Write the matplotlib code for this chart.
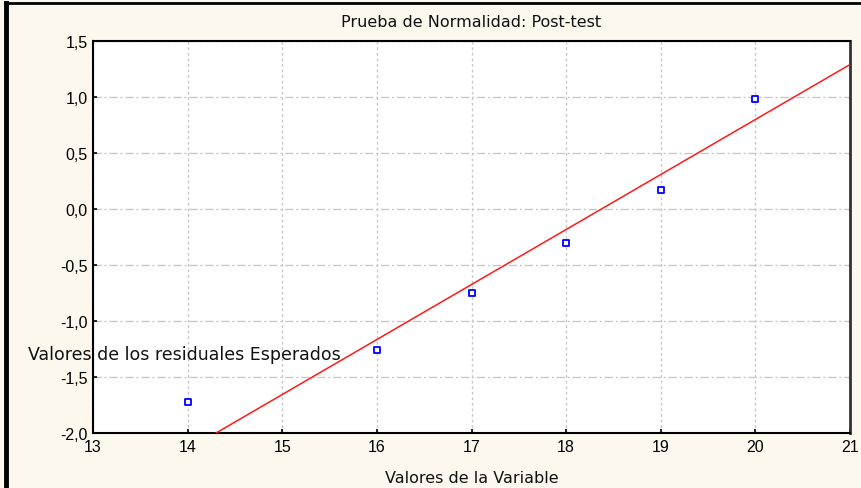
import numpy as np
import matplotlib
matplotlib.use("Agg")
import matplotlib.pyplot as plt
from matplotlib.lines import Line2D
from matplotlib.ticker import FuncFormatter

# observed values vs expected normal residuals
x_vals = [14, 16, 17, 18, 19, 20]
y_vals = [-1.72, -1.26, -0.75, -0.30, 0.17, 0.98]
# reference line endpoints
line_x = [14.3, 21.0]
line_y = [-2.0, 1.29]

x_ticks = [13, 14, 15, 16, 17, 18, 19, 20, 21]
y_ticks = [-2.0, -1.5, -1.0, -0.5, 0.0, 0.5, 1.0, 1.5]

plt.rcParams['font.family'] = ['Liberation Sans', 'DejaVu Sans']

fig = plt.figure(figsize=(8.62, 4.89), dpi=100, facecolor='#fdf8ee')
ax = fig.add_axes([0.108, 0.1125, 0.878, 0.8015])
ax.set_facecolor('white')

ax.plot(line_x, line_y, color='#ff1a1a', linewidth=1.1, zorder=3)
ax.scatter(x_vals, y_vals, marker='s', s=18, facecolors='white',
           edgecolors='#0000ff', linewidths=1.3, zorder=4)

ax.set_xlim(13, 21)
ax.set_ylim(-2.0, 1.5)
ax.set_xticks(x_ticks)
ax.set_yticks(y_ticks)
ax.xaxis.set_major_formatter(FuncFormatter(lambda v, p: f"{v:.0f}"))
ax.yaxis.set_major_formatter(FuncFormatter(lambda v, p: f"{v:.1f}".replace('.', ',')))
ax.tick_params(direction='in', length=3, width=1.2, labelsize=11.5, colors='black', pad=4)

ax.xaxis.grid(True, color='#c8c8c8', linestyle=(0, (2, 2)), linewidth=1.0)
ax.yaxis.grid(True, color='#c8c8c8', linestyle=(0, (6, 2, 1.5, 2)), linewidth=1.0)
ax.set_axisbelow(True)

for side in ['left', 'bottom', 'top']:
    ax.spines[side].set_color('black')
    ax.spines[side].set_linewidth(1.5)
ax.spines['right'].set_color('#333333')
ax.spines['right'].set_linewidth(2.0)

txt = dict(family=['DejaVu Sans'], fontsize=11.5, color='#111111')
ax.set_title('Prueba de Normalidad: Post-test', pad=10.5, **txt)
ax.set_xlabel('Valores de la Variable', labelpad=11.5, **txt)
fig.text(0.032, 0.274, 'Valores de los residuales Esperados',
         ha='left', va='center', zorder=10, family=['DejaVu Sans'],
         fontsize=12.5, color='#111111')

# outer frame of the original screenshot
fig.add_artist(Line2D([0.006, 1.0], [0.992, 0.992], transform=fig.transFigure,
                      color='black', linewidth=2))
fig.add_artist(Line2D([0.007, 0.007], [0.0, 0.992], transform=fig.transFigure,
                      color='black', linewidth=3.5))

fig.savefig('out.png', dpi=100, facecolor=fig.get_facecolor())
